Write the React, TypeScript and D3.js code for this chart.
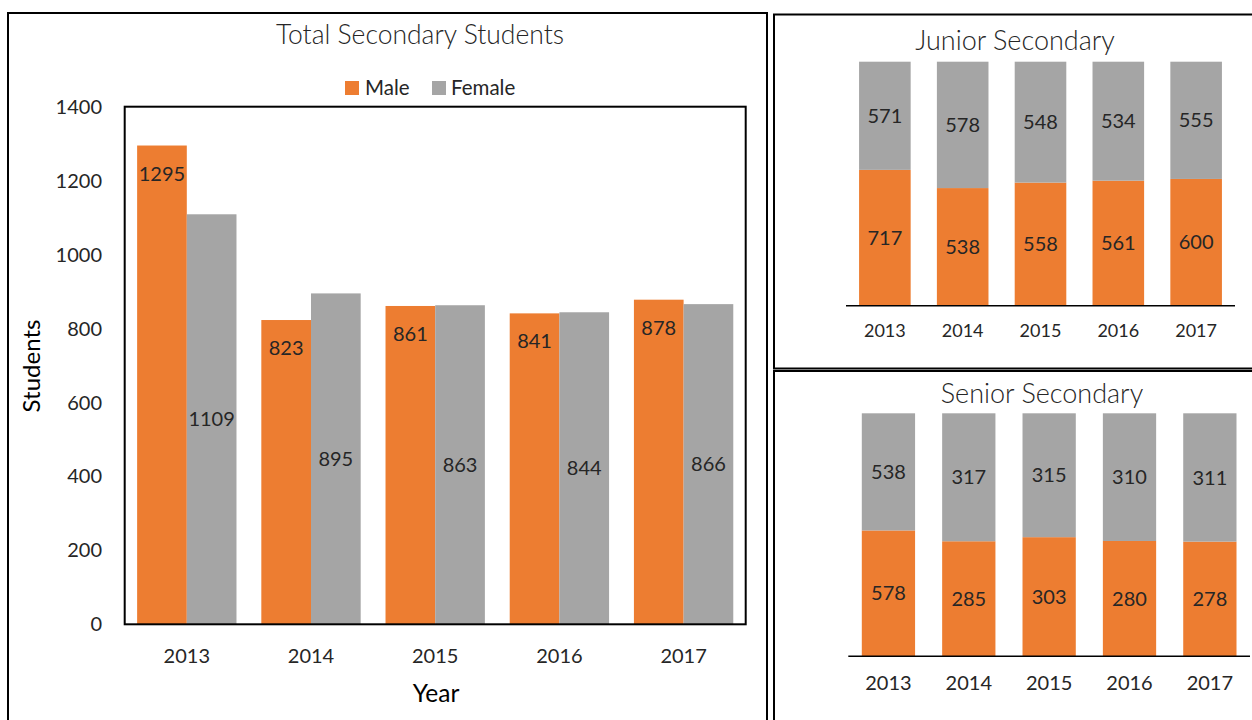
import React from 'react';
import * as d3 from 'd3';

// chart data
const years = ['2013', '2014', '2015', '2016', '2017'];
const totalMale = [1295, 823, 861, 841, 878];
const totalFemale = [1109, 895, 863, 844, 866];
const juniorMale = [717, 538, 558, 561, 600];
const juniorFemale = [571, 578, 548, 534, 555];
const seniorMale = [578, 285, 303, 280, 278];
const seniorFemale = [538, 317, 315, 310, 311];
const yTicks = [0, 200, 400, 600, 800, 1000, 1200, 1400];

const ORANGE = '#ED7D31';
const GRAY = '#A5A5A5';
const FONT = 'Lato, "Open Sans", sans-serif';
const TXT = '#262626';
const DY = 2; // nudge for vertical centring

const StackedPanel = ({ title, male, female, x0, x1, yTop, yBase, titleX, titleY, tickY, tickSize }) => {
  const x = d3.scaleBand().domain(years).range([x0, x1]).paddingInner(0.337).paddingOuter(0.168);
  const y = d3.scaleLinear().domain([0, 1]).range([yBase, yTop]);
  return (
    <g>
      <text x={titleX} y={titleY + DY} textAnchor="middle" dominantBaseline="middle" fontSize={27} fontWeight={300} fill={TXT}>{title}</text>
      {years.map((yr, i) => {
        const tot = male[i] + female[i];
        const m = male[i] / tot;
        const bx = x(yr);
        const bw = x.bandwidth();
        return (
          <g key={yr}>
            <rect x={bx} y={y(m)} width={bw} height={y(0) - y(m)} fill={ORANGE} />
            <rect x={bx} y={y(1)} width={bw} height={y(m) - y(1)} fill={GRAY} />
            <text x={bx + bw / 2} y={(y(0) + y(m)) / 2 + DY} textAnchor="middle" dominantBaseline="middle" fontSize={20} fill={TXT}>{male[i]}</text>
            <text x={bx + bw / 2} y={(y(m) + y(1)) / 2 + DY} textAnchor="middle" dominantBaseline="middle" fontSize={20} fill={TXT}>{female[i]}</text>
            <text x={bx + bw / 2} y={tickY + DY} textAnchor="middle" dominantBaseline="middle" fontSize={tickSize} fill={TXT}>{yr}</text>
          </g>
        );
      })}
      <line x1={x0} x2={x1} y1={yBase} y2={yBase} stroke="#000" strokeWidth={1.5} />
    </g>
  );
};

const App = () => {
  const W = 1252, H = 720;
  const plot = { left: 124.7, right: 745.7, top: 106.7, bottom: 624.3 };
  const x = d3.scaleBand().domain(years).range([plot.left, plot.right]).paddingInner(0.2).paddingOuter(0.1);
  const xs = d3.scaleBand().domain(['m', 'f']).range([0, x.bandwidth()]);
  const y = d3.scaleLinear().domain([0, 1400]).range([plot.bottom, plot.top]);

  return (
    <svg width={W} height={H} style={{ position: 'absolute', left: 0, top: 0, display: 'block' }} fontFamily={FONT}>
      <rect x={0} y={0} width={W} height={H} fill="#fff" />
      {/* left panel */}
      <rect x={8} y={13} width={759} height={730} fill="none" stroke="#000" strokeWidth={2} />
      <text x={420} y={35 + DY} textAnchor="middle" dominantBaseline="middle" fontSize={26.5} fontWeight={300} fill={TXT}>Total Secondary Students</text>
      <rect x={345} y={81} width={14} height={14} fill={ORANGE} />
      <text x={365} y={88 + DY} dominantBaseline="middle" fontSize={20.5} fill={TXT}>Male</text>
      <rect x={432} y={81} width={14} height={14} fill={GRAY} />
      <text x={451} y={88 + DY} dominantBaseline="middle" fontSize={20.5} fill={TXT}>Female</text>

      {yTicks.map(t => (
        <text key={t} x={102} y={y(t) + DY} textAnchor="end" dominantBaseline="middle" fontSize={20} fill={TXT}>{t}</text>
      ))}
      {years.map((yr, i) => (
        <g key={yr}>
          <rect x={x(yr) + xs('m')} y={y(totalMale[i])} width={xs.bandwidth()} height={y(0) - y(totalMale[i])} fill={ORANGE} />
          <rect x={x(yr) + xs('f')} y={y(totalFemale[i])} width={xs.bandwidth()} height={y(0) - y(totalFemale[i])} fill={GRAY} />
          <text x={x(yr) + xs('m') + xs.bandwidth() / 2} y={y(totalMale[i]) + 28 + DY} textAnchor="middle" dominantBaseline="middle" fontSize={20} fill={TXT}>{totalMale[i]}</text>
          <text x={x(yr) + xs('f') + xs.bandwidth() / 2} y={(y(totalFemale[i]) + y(0)) / 2 + DY} textAnchor="middle" dominantBaseline="middle" fontSize={20} fill={TXT}>{totalFemale[i]}</text>
          <text x={x(yr) + x.bandwidth() / 2} y={656 + DY} textAnchor="middle" dominantBaseline="middle" fontSize={20} fill={TXT}>{yr}</text>
        </g>
      ))}
      <rect x={plot.left} y={plot.top} width={plot.right - plot.left} height={plot.bottom - plot.top} fill="none" stroke="#000" strokeWidth={2} />
      <text transform={`translate(${32 + DY},366) rotate(-90)`} textAnchor="middle" dominantBaseline="middle" fontSize={24} fill="#000">Students</text>
      <text x={436} y={694 + DY} textAnchor="middle" dominantBaseline="middle" fontSize={24.5} fill="#000">Year</text>

      {/* right panels */}
      <rect x={774} y={14.5} width={500} height={354} fill="none" stroke="#000" strokeWidth={2} />
      <rect x={774} y={371} width={500} height={400} fill="none" stroke="#000" strokeWidth={2} />
      <StackedPanel title="Junior Secondary" male={juniorMale} female={juniorFemale}
        x0={846} x1={1235} yTop={61.7} yBase={305.7} titleX={1015} titleY={41} tickY={330} tickSize={18} />
      <StackedPanel title="Senior Secondary" male={seniorMale} female={seniorFemale}
        x0={848.3} x1={1250} yTop={413.3} yBase={656.3} titleX={1042} titleY={394} tickY={683} tickSize={20} />
    </svg>
  );
};

export default App;
